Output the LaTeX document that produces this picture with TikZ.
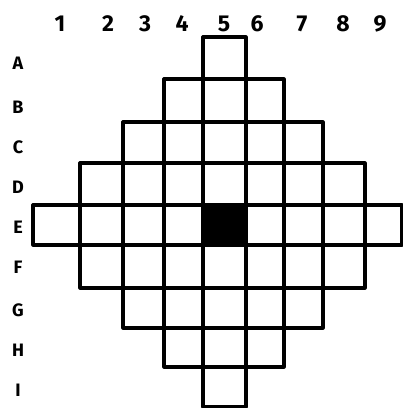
\documentclass[tikz,border=0pt]{standalone}
\usepackage{fontspec}
\setmainfont{Fira Sans}
\begin{document}
\begin{tikzpicture}[x=1pt,y=-1pt,
  cell/.style={draw=black,line width=3.2pt,line join=round},
  lab/.style={font=\fontsize{23}{23}\selectfont\bfseries,inner sep=0pt,anchor=center},
  rlab/.style={font=\fontsize{18}{18}\selectfont\bfseries,inner sep=0pt,anchor=center}]
\useasboundingbox (0,0) rectangle (403,408);
\def\xe{{33,80,123,164,203,246,284,323,365,402}}
\def\ye{{37,79,122,163,205,245,288,328,367,407}}
\fill[black] (203,205) rectangle (246,245);
\foreach \r/\a/\b in {1/5/5,2/4/6,3/3/7,4/2/8,5/1/9,6/2/8,7/3/7,8/4/6,9/5/5}{
  \foreach \c in {\a,...,\b}{
    \pgfmathsetmacro\xl{\xe[\c-1]}
    \pgfmathsetmacro\xr{\xe[\c]}
    \pgfmathsetmacro\yt{\ye[\r-1]}
    \pgfmathsetmacro\yb{\ye[\r]}
    \draw[cell] (\xl,\yt) rectangle (\xr,\yb);
  }
}
\foreach \t/\x/\n in {1/60/n1,2/108/n2,3/145/n3,4/182/n4,5/224/n5,6/257/n6,7/302/n7,8/343/n8,9/380/n9}
  \node[lab] (\n) at (\x,24) {\t};
\foreach \t/\y/\n in {A/63/ra,B/107/rb,C/147/rc,D/187/rd,E/227/re,F/267/rf,G/310/rg,H/350/rh,I/390/ri}
  \node[rlab] (\n) at (18,\y) {\t};
\end{tikzpicture}
\end{document}
